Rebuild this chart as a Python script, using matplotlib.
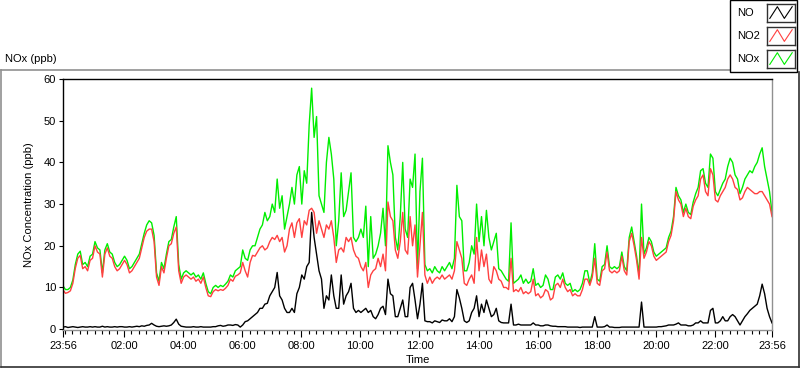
import matplotlib
matplotlib.use("Agg")
import matplotlib.pyplot as plt
from matplotlib.lines import Line2D
from matplotlib.patches import Rectangle
import numpy as np

plt.rcParams['font.family'] = ['Liberation Sans', 'DejaVu Sans']

# 5-minute samples starting at 23:56 (previous day), one row per hour
no2 = [
    9.4, 8.6, 8.8, 9.2, 11, 14.6, 17, 17.7, 14.5, 15, 14, 16.5,
    17, 20, 18.5, 18, 12.5, 18, 19.5, 17.5, 17, 15, 14, 14.5,
    15.5, 16.5, 15.5, 13.5, 14, 15, 16, 17, 19.5, 22, 23.5, 24,
    24, 21, 12.5, 10.5, 15, 13.5, 17, 20, 20.5, 23, 24.5, 14,
    11, 12.5, 13, 12.5, 12, 12.5, 11.5, 12, 11, 12.5, 10, 8,
    7.8, 9, 9.5, 9.2, 9.5, 9.3, 9.8, 10.5, 12, 11.5, 12.7, 13,
    13.5, 16, 14, 12.5, 16, 17.7, 17.5, 18.5, 19.5, 20, 19, 19.5,
    21, 22, 21.5, 22.5, 21, 22, 18.5, 20, 24, 25.5, 22, 25.5,
    26.5, 22, 26, 25, 28.5, 29, 28, 23, 26, 24, 22, 25,
    24, 26, 22, 16, 19, 19.5, 18.5, 22, 21, 22, 19, 17.5,
    17, 15, 14, 16, 10, 13, 14, 14.5, 17, 15, 18, 14,
    30.5, 27, 26, 19, 17, 21, 28, 19, 18, 27, 20, 25,
    12.5, 20, 28, 13, 11, 12.5, 11, 12, 12.5, 12, 13, 12,
    12.5, 13, 12, 14, 21, 19, 17, 11, 10.5, 12, 13, 11,
    22, 14, 19, 15, 18, 12, 11, 15, 14, 12, 11.5, 10,
    10, 9.5, 17, 9, 9.5, 9, 10, 8.5, 9, 8.5, 9, 12,
    8, 8.5, 7.5, 8, 9.5, 9, 7, 7.5, 10.5, 11, 10, 12,
    10, 9, 9.5, 8, 8.5, 8, 8, 9.5, 12, 12, 10.5, 12.5,
    17, 11, 10.5, 14, 14.5, 18.5, 14, 13.5, 14, 13.5, 14, 17.5,
    14, 13, 21, 23, 20, 16.5, 12, 22, 17, 18.5, 21, 20,
    17.5, 16.5, 17, 17.5, 18, 18.5, 21, 22.5, 26, 33, 31, 30,
    27, 29, 27, 26.5, 29.5, 31, 32, 36, 37, 33, 32, 38.5,
    37, 31, 30.5, 32, 33, 34, 36, 37, 36, 34, 33.5, 31,
    31.5, 33, 34, 33.5, 33, 32.5, 32.5, 33, 33, 32, 31, 30,
    27,
]

nox = [
    10.4, 9.5, 9.5, 10, 11.8, 15.5, 18, 18.7, 15.5, 16, 15, 17.5,
    18, 21, 19.5, 19, 13.5, 19, 20.5, 18.5, 18, 16, 15, 15.5,
    16.5, 17.5, 16.5, 14.5, 15, 16, 17, 18, 20.5, 23, 25, 26,
    25.5, 22.5, 13.5, 11.5, 16, 14.5, 18, 21, 21.5, 24.5, 27, 15.5,
    12, 13.5, 14, 13.5, 13, 13.5, 12.5, 13, 12, 13.5, 11, 9,
    8.5, 10, 10.5, 10, 10.5, 10.2, 10.8, 11.5, 13, 12.5, 14, 14.5,
    15, 19, 17, 16.5, 19, 20, 20, 22, 24, 25, 28, 26,
    27, 30, 28, 36, 29, 32, 24, 27, 30, 34, 30, 37,
    39, 30, 38, 35, 49, 57.8, 46, 51, 32, 30, 28, 40,
    46, 42, 36, 20, 26, 37.5, 27, 28.5, 33, 37.5, 22, 21,
    22, 24, 22, 29.5, 15, 27, 17, 18, 20, 23, 29, 20,
    44, 40, 37, 22, 19, 27, 40, 24, 22, 36, 34, 42,
    14.5, 33, 41, 15.5, 14, 14.5, 13.5, 15, 14, 13.5, 15, 14,
    15, 16, 14.5, 17, 34.5, 27, 26, 14, 14, 16, 20, 18,
    30, 21, 27, 20, 28.5, 22, 19, 21, 23, 14.5, 14, 13,
    12, 11.5, 25.5, 11, 11.5, 12, 13, 11, 12, 11, 11.5, 14.5,
    10.5, 11, 10, 10.5, 13, 12, 9.5, 9.5, 12.5, 13, 12, 13.5,
    11, 10.5, 11, 9, 9.5, 9, 9.5, 11, 14, 14, 11, 13.5,
    20.5, 12, 11.5, 15, 15.5, 20, 15, 14.5, 15, 14.5, 15, 18.5,
    15, 14, 22, 24.5, 21, 17.5, 13, 30, 18, 19.5, 22, 21,
    18.5, 17.5, 18, 18.5, 19, 19.5, 22, 23.5, 27, 34, 32, 31,
    28, 30, 28, 27.5, 30.5, 32.5, 34, 38, 38.5, 35, 34, 42,
    41, 33, 32, 33.5, 35, 36, 39, 41, 40, 37, 36, 32.5,
    34, 36, 37, 38, 37.5, 39, 40, 42, 43.5, 39, 36, 33,
    28,
]

no = [
    0.5, 0.6, 0.4, 0.5, 0.6, 0.5, 0.4, 0.5, 0.6, 0.5, 0.5, 0.6,
    0.5, 0.6, 0.5, 0.5, 0.7, 0.5, 0.6, 0.5, 0.5, 0.6, 0.5, 0.6,
    0.6, 0.5, 0.5, 0.6, 0.5, 0.6, 0.7, 0.6, 0.8, 0.7, 0.9, 1.0,
    1.4, 1.0, 0.7, 0.6, 0.7, 0.8, 0.7, 0.8, 1.0, 1.6, 2.4, 1.2,
    0.7, 0.6, 0.5, 0.5, 0.5, 0.6, 0.5, 0.5, 0.6, 0.5, 0.5, 0.5,
    0.5, 0.6, 0.6, 0.8, 0.9, 0.7, 0.8, 1.0, 1.0, 0.9, 1.1, 1.0,
    0.5, 1, 1.8, 2, 2.5, 3, 3.5, 4, 5, 5, 6, 6.2,
    8, 9, 10, 13.6, 8, 7, 5, 4, 4, 5, 4, 8.5,
    10, 13, 12, 15, 16, 28, 22, 18, 14, 12, 5, 8,
    7, 13, 8, 5, 5, 13, 6, 8, 9, 11, 5, 4,
    4.5, 4, 4.5, 5, 4, 4.5, 3, 2.5, 3.5, 5, 5.5, 3.5,
    12, 8.5, 8, 3, 3, 5, 7, 3, 3, 10, 11, 7,
    2.5, 6, 11, 2, 1.8, 1.8, 1.5, 2, 1.8, 1.6, 2.2, 2,
    2, 2.5, 1.8, 3, 9.5, 7.5, 5, 2, 1.6, 2, 4, 5,
    8, 3, 6, 4, 7, 5, 3, 3.5, 5, 2, 1.6, 1.5,
    1.5, 1.5, 6, 1, 1, 1.2, 1, 1, 1, 1, 1, 1.5,
    1, 1, 0.8, 0.8, 1, 1, 0.8, 0.7, 0.7, 0.6, 0.6, 0.6,
    0.6, 0.5, 0.5, 0.5, 0.5, 0.5, 0.4, 0.5, 0.5, 0.5, 0.5, 0.5,
    3, 0.5, 0.5, 0.5, 0.6, 1, 0.5, 0.5, 0.4, 0.4, 0.4, 0.5,
    0.5, 0.5, 0.5, 0.5, 0.5, 0.5, 0.5, 6.5, 0.5, 0.5, 0.5, 0.5,
    0.5, 0.5, 0.6, 0.6, 0.7, 0.8, 1, 1, 1, 1.2, 1.5, 1,
    1, 1, 0.8, 0.8, 1, 1.5, 1.5, 2, 1.5, 1.5, 1.5, 4.5,
    5, 1.5, 1.5, 2, 3, 2, 2, 3, 3.5, 3, 2, 1,
    2, 3, 3.7, 4.5, 5, 5.5, 6, 8, 10.8, 8.5, 5, 3,
    1.5,
]

series = ["NO", "NO2", "NOx"]
colors = ["black", "#ff4040", "#00ee00"]

# time in hours from midnight; first sample is 23:56 of the previous day
t0 = -4 / 60
t = t0 + np.arange(len(no2)) * 5 / 60
t_end = t[-1]

xtick_pos = [t0] + list(range(2, 24, 2)) + [t_end]
xtick_lab = ["23:56"] + ["%02d:00" % h for h in range(2, 24, 2)] + ["23:56"]

W, H = 800, 369
fig = plt.figure(figsize=(W / 100, H / 100), dpi=100)

def fx(px):
    return px / W

def fy(py):
    return 1 - py / H

ax = fig.add_axes([fx(63), fy(330), fx(709), 251 / H])
ax.plot(t, nox, color=colors[2], lw=1.0, zorder=1)
ax.plot(t, no2, color=colors[1], lw=1.0, zorder=2)
ax.plot(t, no, color=colors[0], lw=1.0, zorder=3)

ax.set_xlim(t0, t_end)
ax.set_ylim(-0.2, 60)
ax.set_yticks(range(0, 61, 10))
ax.set_xticks(xtick_pos)
ax.set_xticklabels(xtick_lab)
ax.set_xticks(np.arange(0, 24, 0.25), minor=True)
ax.tick_params(axis="both", labelsize=8, direction="out", color="black")
ax.tick_params(axis="y", length=3, width=0.8, pad=2)
ax.tick_params(axis="x", which="major", length=5, width=0.8, pad=3)
ax.tick_params(axis="x", which="minor", length=3, width=0.8)
for side in ["top", "left"]:
    ax.spines[side].set_color("black")
    ax.spines[side].set_linewidth(1.0)
for side in ["bottom", "right"]:
    ax.spines[side].set_color("#909090")
    ax.spines[side].set_linewidth(1.0)

fig.text(fx(29), fy(205), "NOx Concentration (ppb)", rotation=90,
         ha="center", va="center", fontsize=8)
fig.text(fx(418), fy(360), "Time", ha="center", va="center", fontsize=8)
fig.text(fx(5), fy(59), "NOx (ppb)", ha="left", va="center", fontsize=8)

# outer frame
fig.add_artist(Line2D([fx(0.5), fx(730)], [fy(69.5), fy(69.5)], color="#909090", lw=1.2))
fig.add_artist(Line2D([fx(0.5), fx(0.5)], [fy(69.5), fy(367)], color="#909090", lw=1.2))
fig.add_artist(Line2D([fx(0.5), fx(798.5)], [fy(367), fy(367)], color="#303030", lw=1.2))
fig.add_artist(Line2D([fx(798.5), fx(798.5)], [fy(72), fy(367)], color="#303030", lw=1.2))

# legend box
fig.add_artist(Rectangle((fx(730), fy(72)), fx(67), 72 / H, transform=fig.transFigure,
                         facecolor="white", edgecolor="black", lw=1.0, zorder=5))
rows = [13, 36, 59]
for name, col, yc in zip(series, colors, rows):
    fig.text(fx(737), fy(yc), name, ha="left", va="center", fontsize=8, zorder=6)
    icon = fig.add_axes([fx(767), fy(yc + 9), fx(28), 18 / H], zorder=6)
    icon.plot([0.1, 0.37, 0.62, 0.9], [0.2, 0.85, 0.2, 0.85], color=col, lw=0.8)
    icon.set_xlim(0, 1)
    icon.set_ylim(0, 1)
    icon.set_xticks([])
    icon.set_yticks([])
    for s in icon.spines.values():
        s.set_color("#303030")
        s.set_linewidth(1.0)

fig.savefig("out.png", dpi=100)
